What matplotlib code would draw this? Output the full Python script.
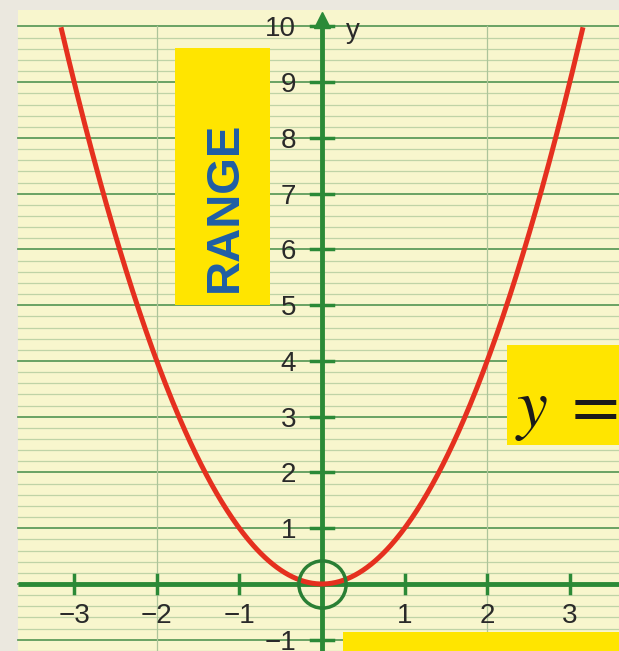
import numpy as np
import matplotlib.pyplot as plt
from matplotlib.patches import Rectangle

# values
x_tick_values = [-3, -2, -1, 1, 2, 3]
y_tick_values = [-1, 1, 2, 3, 4, 5, 6, 7, 8, 9, 10]
x_tick_labels = ["\u22123", "\u22122", "\u22121", "1", "2", "3"]
y_tick_labels = ["\u22121", "1", "2", "3", "4", "5", "6", "7", "8", "9", "10"]
curve_x_min = -3.16
curve_x_max = 3.16
range_box = (-1.78, 5.0, 1.15, 4.61)      # x, y, width, height
formula_box = (2.24, 2.49, 2.0, 1.8)
domain_box = (0.25, -1.5, 4.0, 0.64)

paper = "#f8f6cd"
outer = "#ebe8df"
major = "#5f9c5c"
minor = "#bfd3a6"
axis_green = "#2b8a37"

fig = plt.figure(figsize=(6.19, 6.51), dpi=100)
fig.patch.set_facecolor(outer)
ax = fig.add_axes([0, 0, 1, 1])
ax.set_xlim(-3.898, 3.596)
ax.set_ylim(-1.202, 10.475)
ax.axis("off")

# graph paper
ax.add_patch(Rectangle((-3.68, -2), 8, 12.3, facecolor=paper, edgecolor="none", zorder=0))
for yv in np.arange(-1.2, 10.01, 0.2):
    if abs(yv - round(yv)) < 1e-6:
        continue
    ax.plot([-3.68, 3.7], [yv, yv], color=minor, lw=0.9, zorder=1)
for yv in range(-1, 11):
    ax.plot([-3.68, 3.7], [yv, yv], color=major, lw=1.3, zorder=1)
for xv in [-2, 2]:
    ax.plot([xv, xv], [-1.3, 10], color="#adc49a", lw=0.9, zorder=1)

# yellow boxes
for b in [range_box, formula_box, domain_box]:
    ax.add_patch(Rectangle(b[:2], b[2], b[3], facecolor="#ffe500", edgecolor="none", zorder=2))
ax.text(-1.17, 6.76, "RANGE", rotation=90, color="#1f5ea6", fontsize=34,
        fontweight="bold", family=["Liberation Sans Narrow", "Liberation Sans"],
        ha="center", va="center", zorder=3)
ax.text(2.34, 2.82, r"$y\;=$", fontsize=50, color="#1a1a1a",
        ha="left", va="baseline", zorder=3, math_fontfamily="stix")

# axes
ax.plot([-3.68, 3.7], [0, 0], color=axis_green, lw=3.5, zorder=4, solid_capstyle="butt")
ax.plot([0, 0], [-1.3, 10.0], color=axis_green, lw=3.5, zorder=4, solid_capstyle="butt")
ax.plot([0], [10.12], marker="^", markersize=12, color=axis_green, zorder=4)
for xv in x_tick_values:
    ax.plot([xv, xv], [-0.16, 0.16], color=axis_green, lw=2.5, zorder=4)
for yv in y_tick_values:
    ax.plot([-0.13, 0.13], [yv, yv], color=axis_green, lw=2.5, zorder=4)

# tick labels
tick_font = dict(fontsize=20, color="#2a2a2a", family=["Liberation Sans", "DejaVu Sans"], zorder=6)
for xv, lab in zip(x_tick_values, x_tick_labels):
    ax.text(xv, -0.57, lab, ha="center", va="center", **tick_font)
for yv, lab in zip(y_tick_values, y_tick_labels):
    ax.text(-0.31, yv - 0.05, lab, ha="right", va="center", **tick_font)
ax.text(0.29, 9.92, "y", ha="left", va="center", **tick_font)

# the parabola
xs = np.linspace(curve_x_min, curve_x_max, 400)
ax.plot(xs, xs ** 2, color="#e5301f", lw=3.6, zorder=5, solid_capstyle="butt")

# circle at the vertex
ax.plot([0], [0], marker="o", markersize=34, mfc="none", mec="#2a7f35", mew=2.5, zorder=5)

fig.savefig("out.png", dpi=100, facecolor=fig.get_facecolor())
